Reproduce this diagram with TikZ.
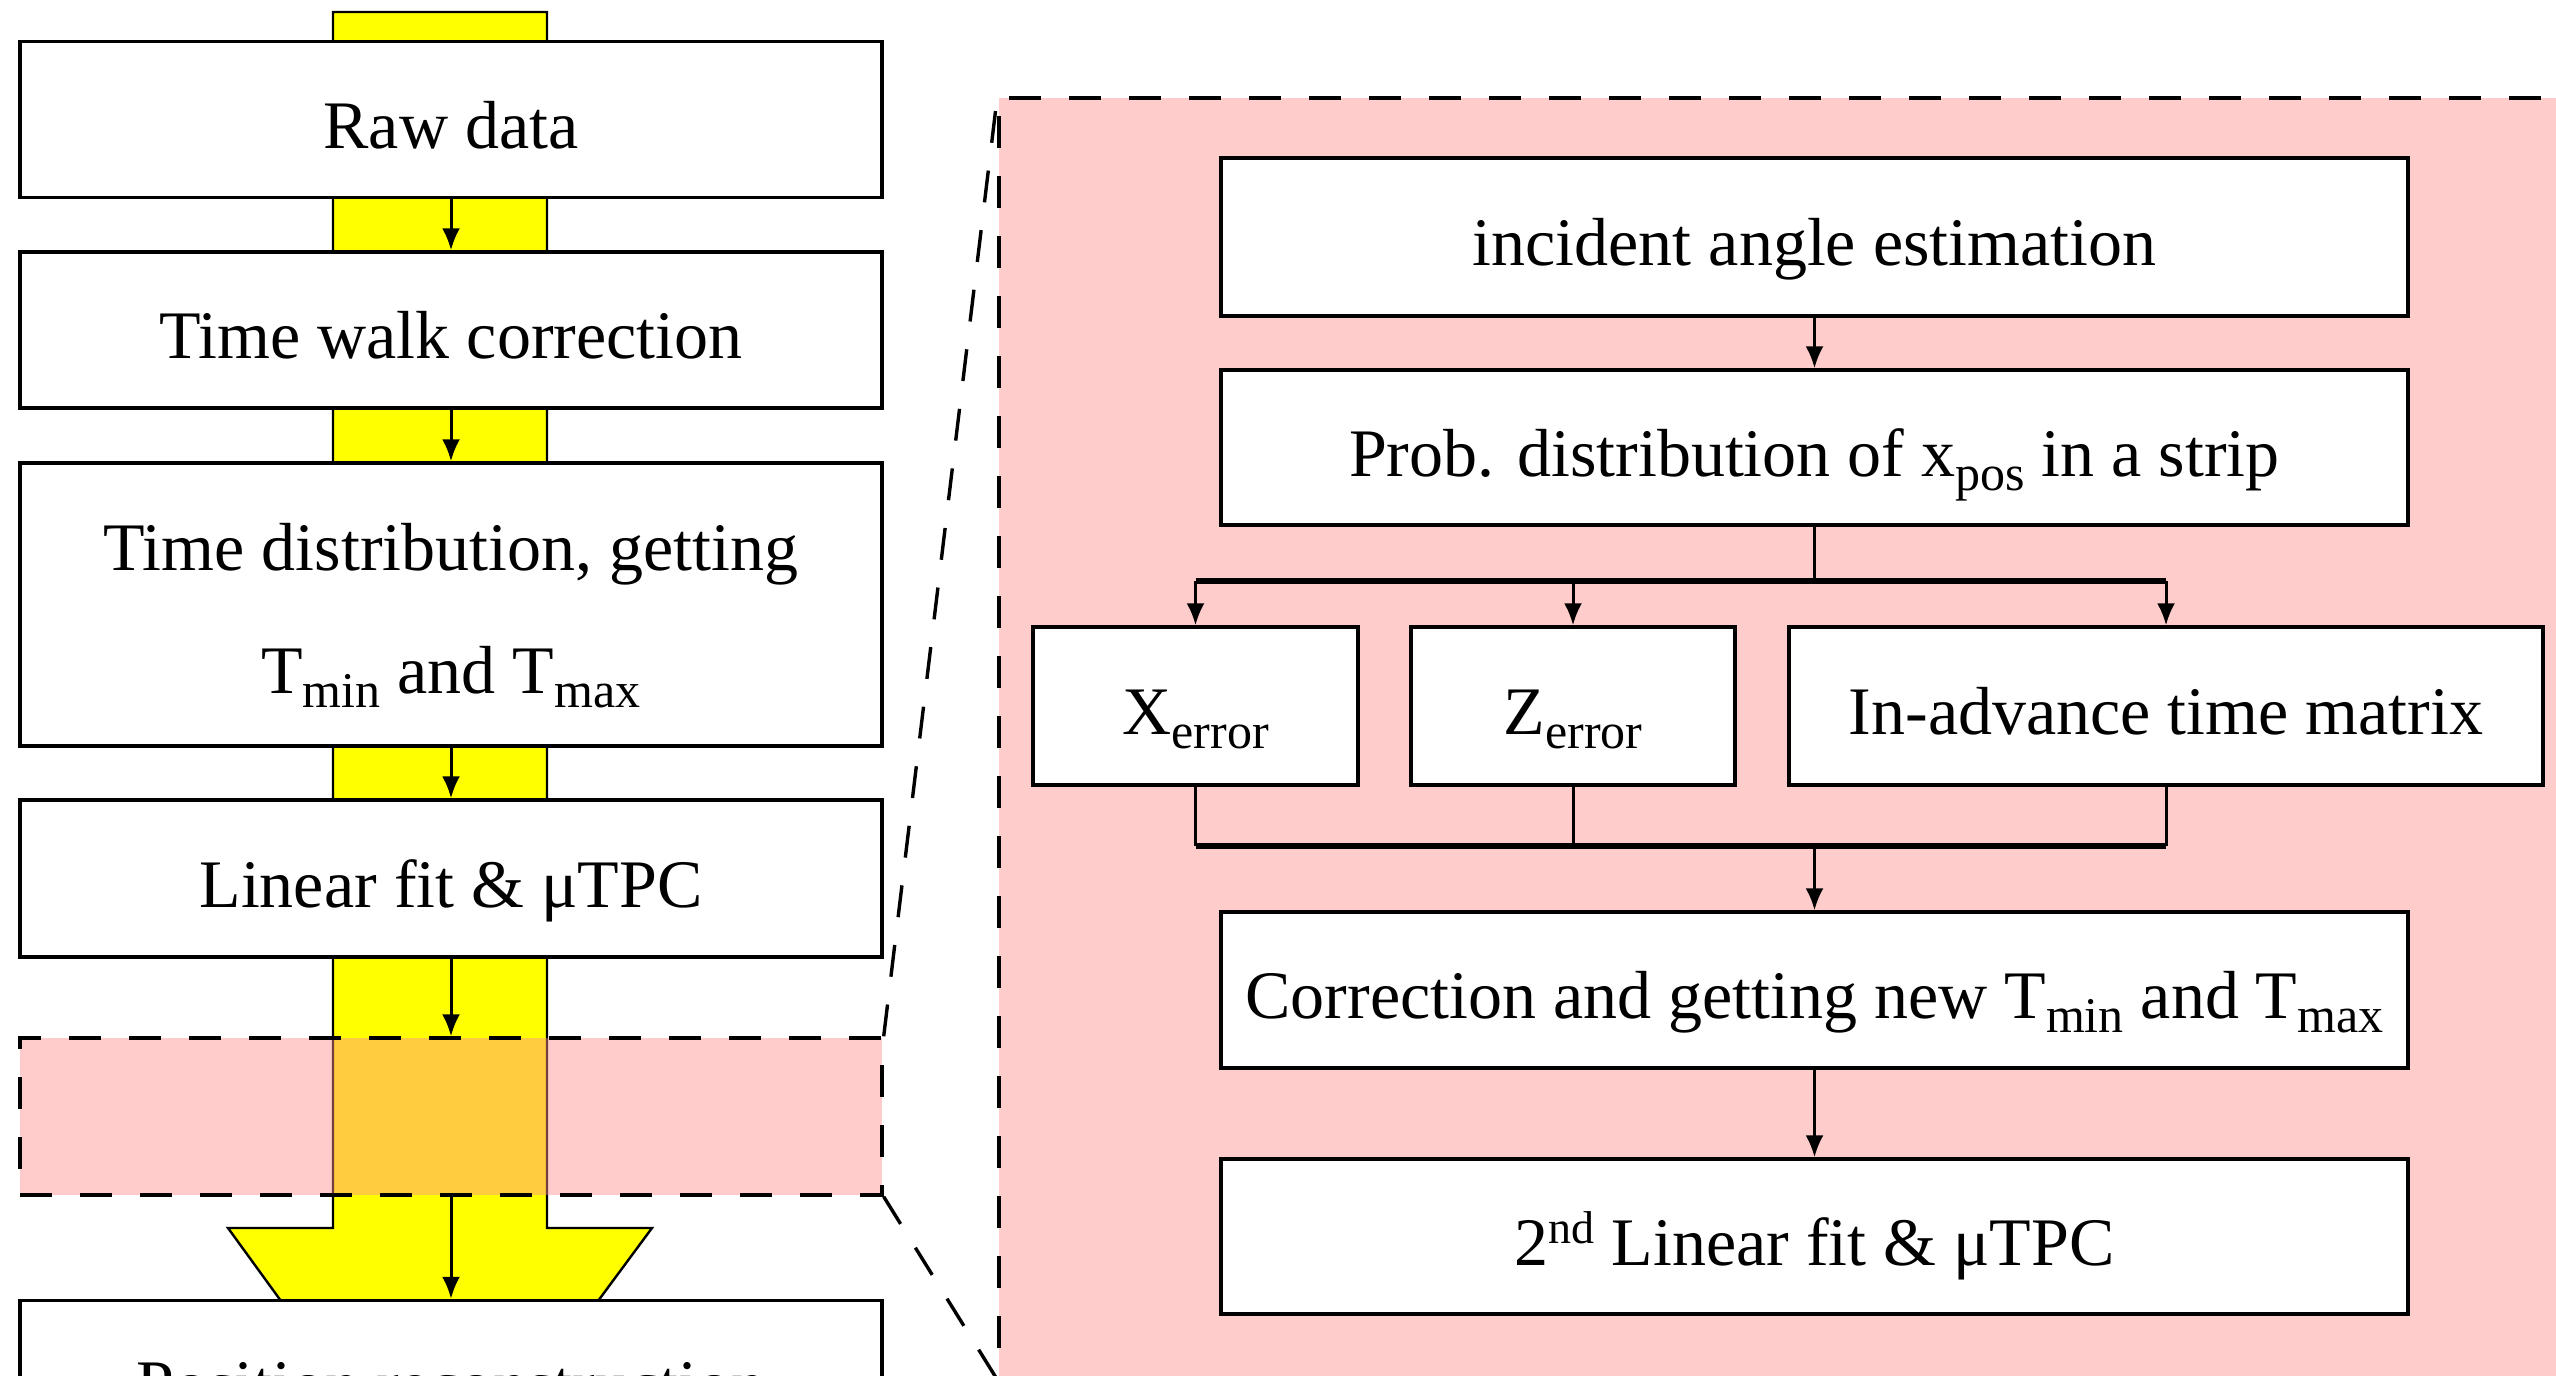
\documentclass[tikz,border=0pt]{standalone}
\usepackage{fontspec}
\setmainfont{Liberation Serif}
\usetikzlibrary{arrows.meta}
\definecolor{panelpink}{RGB}{255,204,204}
\definecolor{bandpink}{RGB}{255,140,140}
\definecolor{flowyellow}{RGB}{255,255,0}
\newcommand\mysub[1]{\raisebox{-3.5pt}{\fontsize{12.5}{12.5}\selectfont #1}}
\newcommand\mysup[1]{\raisebox{5.5pt}{\fontsize{11.5}{11.5}\selectfont #1}}
\begin{document}
\begin{tikzpicture}[x=0.25pt,y=-0.25pt,
  box/.style={draw=black,line width=0.85pt,fill=white,rectangle,inner sep=0pt,
    font=\fontsize{17}{20}\selectfont,text height=14.5pt,text depth=0pt},
  lbl/.style={inner sep=0pt,font=\fontsize{17}{20}\selectfont},
  flow/.style={draw=black,line width=0.6pt,fill=flowyellow},
  dashbox/.style={draw=black,line width=0.85pt,dash pattern=on 8pt off 7pt,rectangle,inner sep=0pt},
  dashline/.style={draw=black,line width=0.85pt,dash pattern=on 8pt off 7pt},
  arr/.style={draw=black,line width=0.75pt,-{Latex[length=5.5pt,width=4.5pt]}},
  plain/.style={draw=black,line width=0.75pt},
  bus/.style={draw=black,line width=1.4pt}]
\useasboundingbox (0,0) rectangle (2556,1376);
\clip (0,0) rectangle (2556,1376);

% yellow flow band
\draw[flow] (333,12) -- (547,12) -- (547,1228) -- (652,1228) -- (598,1301)
  -- (281,1301) -- (228,1228) -- (333,1228) -- cycle;

% left column
\node[box,minimum width=215.5pt,minimum height=39pt] (raw) at (451,119.5) {Raw data};
\node[box,minimum width=215.5pt,minimum height=39pt] (walk) at (451,330) {Time walk correction};
\node[box,minimum width=215.5pt,minimum height=70.75pt] (tdist) at (451,604.5) {};
\node[lbl,anchor=base] (td1) at (451,571) {Time distribution, getting};
\node[lbl,anchor=base] (td2) at (451,694) {T\mysub{min} and T\mysub{max}};
\node[box,minimum width=215.5pt,minimum height=39.25pt] (lin) at (451,878.5) {Linear fit \& μTPC};
\node[dashbox,fill=bandpink,fill opacity=0.45,minimum width=215.5pt,minimum height=39.25pt] (band) at (451,1116.5) {};
\node[box,minimum width=215.5pt,minimum height=39pt] (pos) at (451,1378.5) {Position reconstruction};

\draw[arr] (raw.south) -- (walk.north);
\draw[arr] (walk.south) -- (tdist.north);
\draw[arr] (tdist.south) -- (lin.north);
\draw[arr] (lin.south) -- (band.north);
\draw[arr] (band.south) -- (pos.north);

% zoom panel
\node[dashbox,fill=panelpink,minimum width=400.25pt,minimum height=320pt] (panel) at (1799.5,738) {};
\draw[dashline] (band.north east) -- (panel.north west);
\draw[dashline] (band.south east) -- (panel.south west);

\node[box,minimum width=296.75pt,minimum height=39.5pt] (inc) at (1814.5,237) {incident angle estimation};
\node[box,minimum width=296.75pt,minimum height=38.75pt] (prob) at (1814.5,447.5) {Prob. distribution of x\mysub{pos} in a strip};
\node[box,minimum width=81.25pt,minimum height=39.5pt] (xerr) at (1195.5,706) {X\mysub{error}};
\node[box,minimum width=81pt,minimum height=39.5pt] (zerr) at (1573,706) {Z\mysub{error}};
\node[box,minimum width=188.5pt,minimum height=39.5pt] (adv) at (2166,706) {In-advance time matrix};
\node[box,minimum width=296.75pt,minimum height=39pt] (corr) at (1814.5,990) {Correction and getting new T\mysub{min} and T\mysub{max}};
\node[box,minimum width=296.75pt,minimum height=38.75pt] (lin2) at (1814.5,1236.5) {2\mysup{nd} Linear fit \& μTPC};

\coordinate (split) at (1814.5,581);
\coordinate (join) at (1814.5,846);

\draw[arr] (inc.south) -- (prob.north);
\draw[plain] (prob.south) -- (split);
\draw[bus] (xerr.north |- split) -- (adv.north |- split);
\draw[arr] (xerr.north |- split) -- (xerr.north);
\draw[arr] (zerr.north |- split) -- (zerr.north);
\draw[arr] (adv.north |- split) -- (adv.north);
\draw[plain] (xerr.south) -- (xerr.south |- join);
\draw[plain] (zerr.south) -- (zerr.south |- join);
\draw[plain] (adv.south) -- (adv.south |- join);
\draw[bus] (xerr.south |- join) -- (adv.south |- join);
\draw[arr] (join) -- (corr.north);
\draw[arr] (corr.south) -- (lin2.north);
\end{tikzpicture}
\end{document}
